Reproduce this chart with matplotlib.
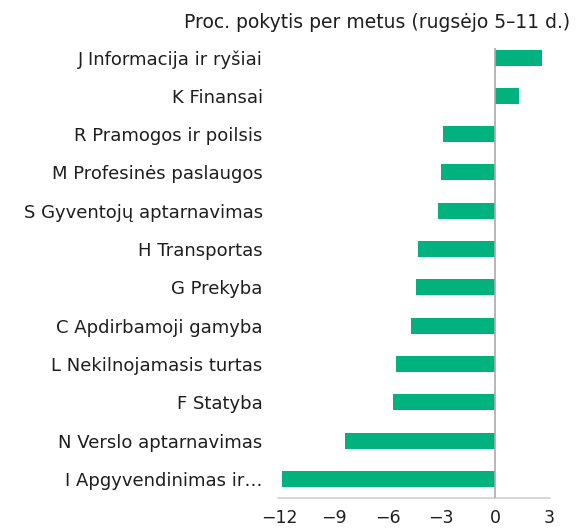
import matplotlib.pyplot as plt

plt.rcParams['font.family'] = ['DejaVu Sans']

# Duomenys
sektoriai = [
    "J Informacija ir ryšiai",
    "K Finansai",
    "R Pramogos ir poilsis",
    "M Profesinės paslaugos",
    "S Gyventojų aptarnavimas",
    "H Transportas",
    "G Prekyba",
    "C Apdirbamoji gamyba",
    "L Nekilnojamasis turtas",
    "F Statyba",
    "N Verslo aptarnavimas",
    "I Apgyvendinimas ir\u2026",
]
pokytis = [2.6, 1.3, -2.9, -3.0, -3.2, -4.3, -4.4, -4.7, -5.5, -5.7, -8.35, -11.9]
x_ticks = [-12, -9, -6, -3, 0, 3]
x_labels = ["\u221212", "\u22129", "\u22126", "\u22123", "0", "3"]

zalia = "#00b27d"
tekstas = "#1e1e1e"

fig = plt.figure(figsize=(5.81, 5.29), dpi=100)
ax = fig.add_axes([0.4785, 0.0586, 0.468, 0.8507])

y = list(range(len(sektoriai)))
ax.barh(y, pokytis, height=0.42, color=zalia, zorder=2)
ax.axvline(0, color="#aaaaaa", lw=1.2, zorder=3)

ax.set_xlim(-12.1, 3.05)
ax.set_ylim(11.5, -0.25)
ax.set_yticks(y)
ax.set_yticklabels(sektoriai, fontsize=13, color=tekstas)
ax.set_xticks(x_ticks)
ax.set_xticklabels(x_labels, fontsize=12.5, color=tekstas)
ax.tick_params(axis="y", length=0, pad=11)
ax.tick_params(axis="x", length=0, pad=8)

for s in ["top", "right", "left"]:
    ax.spines[s].set_visible(False)
ax.spines["bottom"].set_color("#d0d0d0")
ax.spines["bottom"].set_linewidth(1.2)

fig.text(0.981, 0.958, "Proc. pokytis per metus (rugsėjo 5\u201311 d.)",
         ha="right", va="center", fontsize=13.5, color=tekstas)

fig.savefig("out.png", dpi=100)
